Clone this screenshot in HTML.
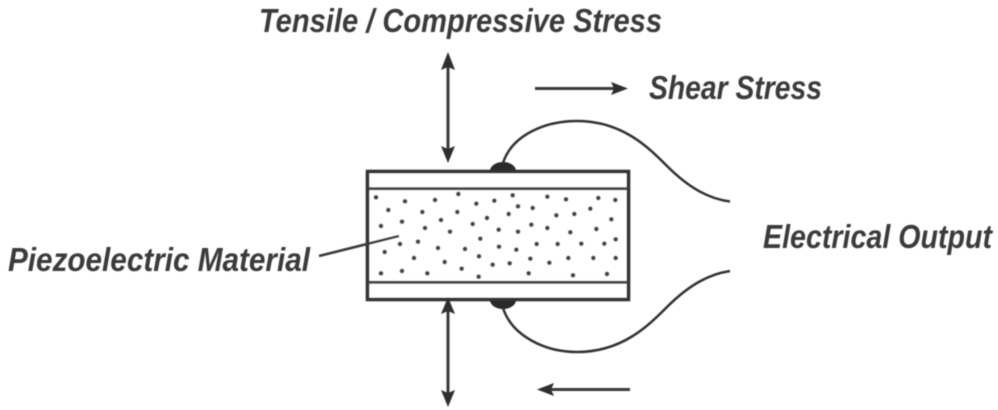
<!DOCTYPE html>
<html><head><meta charset="utf-8"><style>
html,body{margin:0;padding:0;background:#fff}
svg{display:block}
text{font-family:"Liberation Sans",sans-serif;font-style:italic;font-weight:bold;font-size:33px;fill:#3a3a3a}
</style></head><body>
<svg width="998" height="410" viewBox="0 0 998 410" xmlns="http://www.w3.org/2000/svg">
<defs><filter id="b" x="-5%" y="-5%" width="110%" height="110%"><feGaussianBlur stdDeviation="0.6"/></filter></defs>
<rect width="998" height="410" fill="#fff"/>
<g filter="url(#b)">
<text x="259" y="32" textLength="403" lengthAdjust="spacingAndGlyphs">Tensile / Compressive Stress</text>
<text x="649" y="99" textLength="173" lengthAdjust="spacingAndGlyphs">Shear Stress</text>
<text x="763" y="248" textLength="229" lengthAdjust="spacingAndGlyphs">Electrical Output</text>
<text x="8" y="271" textLength="302" lengthAdjust="spacingAndGlyphs">Piezoelectric Material</text>

<ellipse cx="503" cy="171" rx="13" ry="9" fill="#2c2c2c"/>
<ellipse cx="503" cy="300" rx="13" ry="9" fill="#2c2c2c"/>
<rect x="367.5" y="171.5" width="261" height="128" fill="#fff" stroke="#333" stroke-width="3.6"/>
<g stroke="#3f3f3f" stroke-width="2.8"><line x1="368" y1="188.7" x2="628" y2="188.7"/><line x1="368" y1="282.3" x2="628" y2="282.3"/></g>

<g fill="none" stroke="#333" stroke-width="2.5">
<path d="M503 163C512 135 545 121 577 121C622 121 648 147 667 166C690 189 710 199 730 201.5"/>
<path d="M503 308C512 336 545 352 577 352C622 352 648 326 667 307C690 284 710 274 730 271"/>
</g>

<g stroke="#3a3a3a" stroke-width="3" fill="none">
<line x1="448" y1="60" x2="448" y2="156"/>
<line x1="448" y1="305" x2="448" y2="400"/>
<line x1="535" y1="88.5" x2="618" y2="88.5"/>
<line x1="630" y1="389.5" x2="548" y2="389.5"/>
<line x1="319" y1="256" x2="399" y2="236" stroke-width="2.6"/>
</g>
<g fill="#2e2e2e">
<path d="M448 52L455 70L448 67L441 70Z"/>
<path d="M448 163L455 146L448 149L441 146Z"/>
<path d="M448 297L455 314L448 311L441 314Z"/>
<path d="M448 407L455 390L448 393L441 390Z"/>
<path d="M628 88.5L611 82L614 88.5L611 95Z"/>
<path d="M537 389.5L554 383L551 389.5L554 396Z"/>
</g>

<g transform="translate(360 150) scale(.33333)" fill="#444">
<circle cx="48" cy="142" r="7"/><circle cx="135" cy="154" r="7"/><circle cx="225" cy="150" r="7"/><circle cx="295" cy="132" r="7"/><circle cx="349" cy="161" r="7"/><circle cx="403" cy="152" r="7"/><circle cx="458" cy="136" r="7"/><circle cx="474" cy="169" r="7"/><circle cx="518" cy="174" r="7"/><circle cx="562" cy="140" r="7"/><circle cx="618" cy="148" r="7"/><circle cx="715" cy="144" r="7"/><circle cx="766" cy="150" r="7"/>
<circle cx="85" cy="180" r="7"/><circle cx="187" cy="186" r="7"/><circle cx="292" cy="186" r="7"/><circle cx="446" cy="192" r="7"/><circle cx="381" cy="204" r="7"/><circle cx="589" cy="196" r="7"/><circle cx="643" cy="192" r="7"/><circle cx="691" cy="176" r="7"/><circle cx="754" cy="208" r="7"/>
<circle cx="63" cy="228" r="7"/><circle cx="126" cy="215" r="7"/><circle cx="195" cy="234" r="7"/><circle cx="243" cy="210" r="7"/><circle cx="270" cy="245" r="7"/><circle cx="338" cy="222" r="7"/><circle cx="416" cy="239" r="7"/><circle cx="474" cy="245" r="7"/><circle cx="514" cy="224" r="7"/><circle cx="562" cy="234" r="7"/><circle cx="631" cy="247" r="7"/><circle cx="709" cy="237" r="7"/>
<circle cx="361" cy="266" r="7"/><circle cx="120" cy="282" r="7"/><circle cx="174" cy="275" r="7"/><circle cx="234" cy="294" r="7"/><circle cx="315" cy="297" r="7"/><circle cx="417" cy="290" r="7"/><circle cx="469" cy="299" r="7"/><circle cx="530" cy="282" r="7"/><circle cx="593" cy="282" r="7"/><circle cx="664" cy="281" r="7"/><circle cx="733" cy="281" r="7"/><circle cx="767" cy="268" r="7"/>
<circle cx="74" cy="306" r="7"/><circle cx="162" cy="324" r="7"/><circle cx="254" cy="336" r="7"/><circle cx="357" cy="319" r="7"/><circle cx="398" cy="344" r="7"/><circle cx="449" cy="340" r="7"/><circle cx="511" cy="326" r="7"/><circle cx="568" cy="338" r="7"/><circle cx="625" cy="324" r="7"/><circle cx="700" cy="324" r="7"/><circle cx="767" cy="324" r="7"/>
<circle cx="63" cy="370" r="7"/><circle cx="126" cy="363" r="7"/><circle cx="202" cy="370" r="7"/><circle cx="305" cy="356" r="7"/><circle cx="356" cy="380" r="7"/><circle cx="506" cy="370" r="7"/><circle cx="639" cy="376" r="7"/><circle cx="741" cy="372" r="7"/>
</g>
</g>
</svg>
</body></html>
